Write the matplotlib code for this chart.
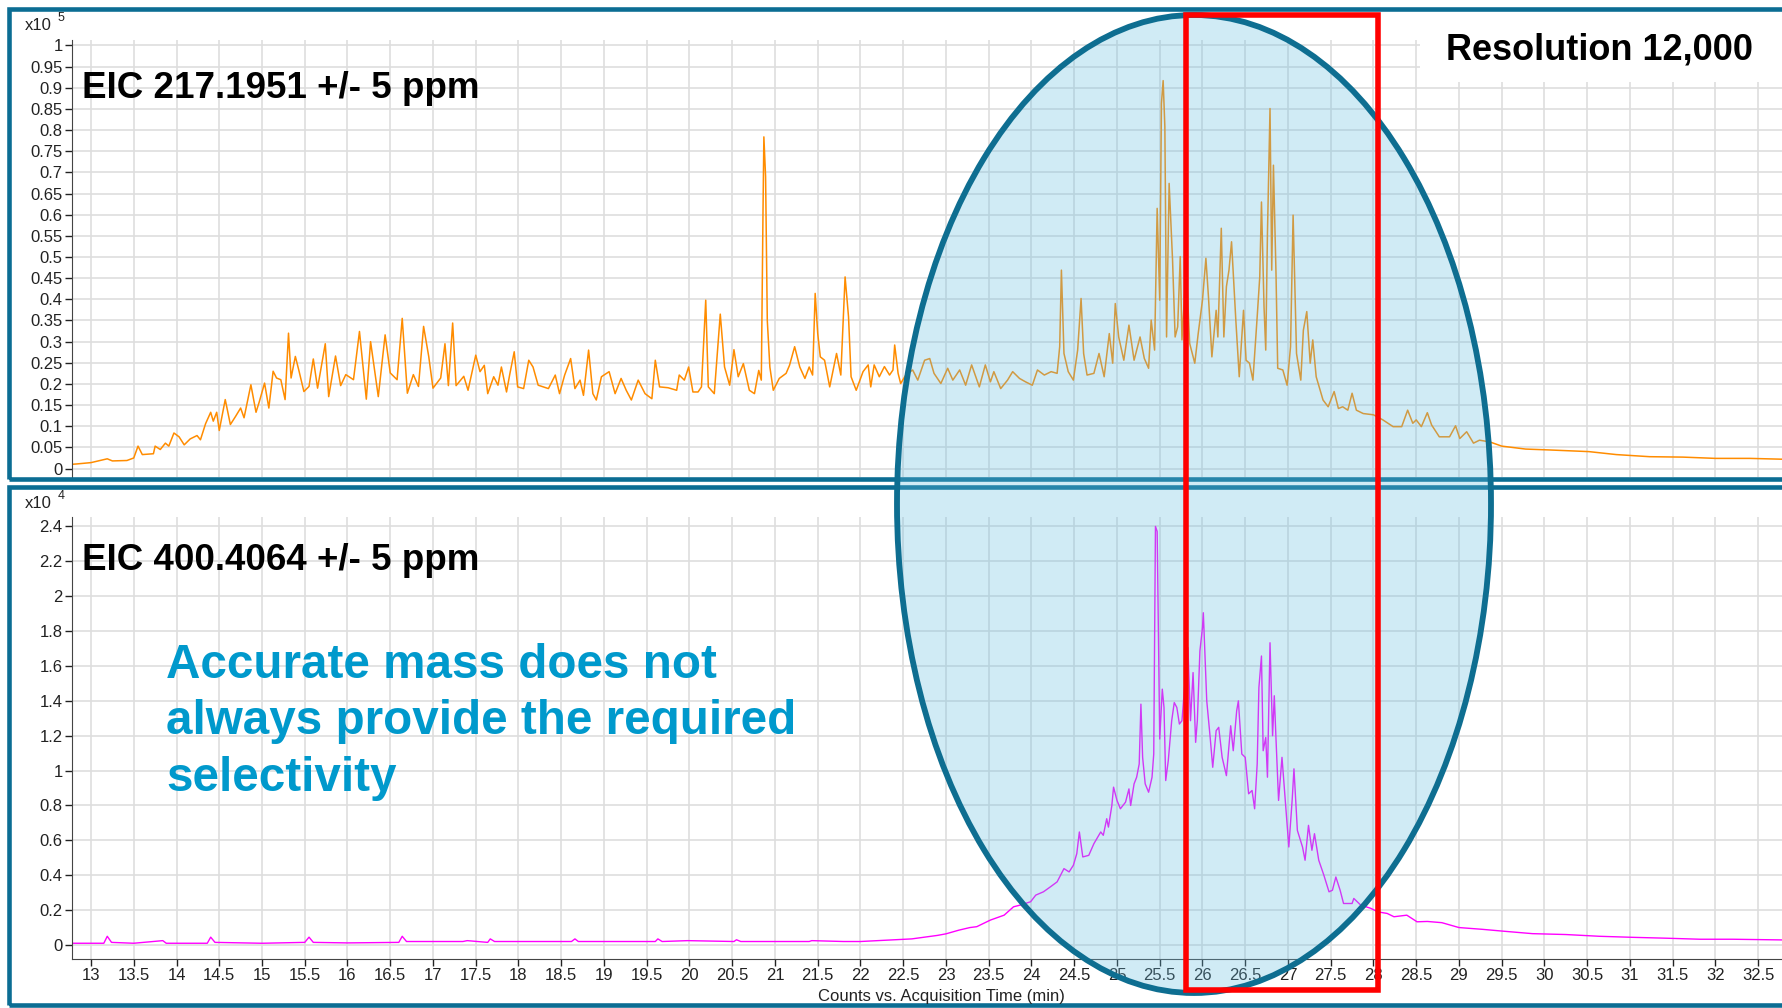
import numpy as np
import matplotlib.pyplot as plt
from matplotlib.patches import Ellipse, Rectangle

plt.rcParams['font.family'] = ['Liberation Sans', 'DejaVu Sans']

# EIC 217.1951, counts x10^5
t_217 = [12.78, 12.84, 13.0, 13.19, 13.25, 13.42, 13.5, 13.55, 13.6, 13.73, 13.75, 13.81, 13.87, 13.91,
         13.97, 14.03, 14.09, 14.16, 14.24, 14.28, 14.34, 14.4, 14.43, 14.47, 14.5, 14.57, 14.63, 14.69,
         14.75, 14.79, 14.87, 14.93, 14.97, 15.03, 15.08, 15.13, 15.17, 15.22, 15.27, 15.31, 15.34, 15.39,
         15.43, 15.49, 15.55, 15.6, 15.65, 15.74, 15.78, 15.86, 15.92, 15.98, 16.07, 16.14, 16.22, 16.27,
         16.36, 16.44, 16.5, 16.58, 16.64, 16.7, 16.77, 16.83, 16.89, 16.95, 17.0, 17.09, 17.14, 17.18,
         17.23, 17.27, 17.36,
         17.41, 17.5, 17.55, 17.6, 17.64, 17.71, 17.76, 17.8, 17.86, 17.9, 17.95, 17.99, 18.06, 18.12,
         18.17, 18.23, 18.35, 18.43, 18.48, 18.54, 18.61, 18.66, 18.72, 18.76, 18.82, 18.87, 18.91, 18.97,
         19.06, 19.13, 19.2, 19.26, 19.32, 19.4, 19.48, 19.56, 19.6, 19.65, 19.75, 19.85, 19.88, 19.94,
         19.99, 20.04, 20.1, 20.14, 20.19, 20.22, 20.29, 20.36, 20.41, 20.47, 20.52, 20.57, 20.63, 20.7,
         20.76, 20.81, 20.84, 20.86, 20.87, 20.89, 20.91, 20.94, 20.98, 21.05, 21.13, 21.17, 21.23, 21.29,
         21.35, 21.4, 21.44, 21.47, 21.5, 21.53, 21.58, 21.64, 21.72, 21.77, 21.82, 21.86, 21.89, 21.95,
         22.03, 22.09, 22.12, 22.16, 22.22, 22.28, 22.34, 22.38, 22.4, 22.44, 22.47, 22.53, 22.61, 22.67,
         22.75, 22.81, 22.86, 22.94, 23.02, 23.08, 23.16, 23.23, 23.3, 23.39, 23.46, 23.52, 23.56, 23.64,
         23.72, 23.78, 23.86, 23.93, 24.01, 24.07, 24.15, 24.23, 24.3, 24.33, 24.35, 24.38, 24.43, 24.49,
         24.54, 24.58, 24.61, 24.65, 24.73, 24.79, 24.85, 24.91, 24.95, 24.98, 25.02, 25.08, 25.14, 25.2,
         25.27, 25.32, 25.37, 25.4, 25.44, 25.47, 25.5, 25.52, 25.54, 25.56, 25.58, 25.61, 25.65, 25.68,
         25.71, 25.74, 25.76,
         25.81, 25.85, 25.91, 25.95, 26.0, 26.04, 26.07, 26.11, 26.16, 26.18, 26.22, 26.25, 26.28, 26.31,
         26.34, 26.39, 26.43, 26.48, 26.51, 26.55, 26.59, 26.64, 26.67, 26.69, 26.72, 26.74, 26.76, 26.79,
         26.81, 26.83, 26.86, 26.88, 26.94, 26.99, 27.03, 27.06, 27.1, 27.15, 27.18, 27.22, 27.26, 27.29,
         27.33, 27.41, 27.47, 27.54, 27.59, 27.64, 27.7, 27.75, 27.8, 27.88, 28.0, 28.11, 28.23, 28.33,
         28.4, 28.46, 28.5, 28.56, 28.63, 28.68, 28.77, 28.89, 28.96, 29.01, 29.09, 29.17, 29.24, 29.36,
         29.5, 29.78, 30.05, 30.52, 30.84, 31.23, 31.62, 32.0, 32.4, 32.79]
c_217 = [0.010, 0.011, 0.014, 0.023, 0.018, 0.019, 0.025, 0.053, 0.033, 0.035, 0.053, 0.045, 0.06, 0.053,
         0.084, 0.075, 0.056, 0.07, 0.078, 0.068, 0.106, 0.133, 0.112, 0.133, 0.09, 0.163, 0.104, 0.123,
         0.143, 0.12, 0.198, 0.133, 0.159, 0.202, 0.143, 0.23, 0.214, 0.21, 0.163, 0.32, 0.214, 0.265,
         0.233, 0.182, 0.194, 0.259, 0.19, 0.295, 0.17, 0.266, 0.196, 0.222, 0.21, 0.324, 0.164, 0.30,
         0.17, 0.316, 0.226, 0.21, 0.355, 0.178, 0.222, 0.194, 0.336, 0.265, 0.19, 0.214, 0.295, 0.196,
         0.344, 0.196, 0.218,
         0.185, 0.268, 0.229, 0.244, 0.177, 0.217, 0.197, 0.24, 0.181, 0.225, 0.276, 0.193, 0.189, 0.256,
         0.24, 0.197, 0.189, 0.221, 0.177, 0.221, 0.26, 0.189, 0.209, 0.173, 0.28, 0.177, 0.162, 0.217,
         0.229, 0.177, 0.213, 0.185, 0.162, 0.209, 0.177, 0.165, 0.256, 0.193, 0.191, 0.185, 0.221, 0.209,
         0.24, 0.181, 0.181, 0.193, 0.398, 0.193, 0.177, 0.365, 0.24, 0.197, 0.281, 0.217, 0.248, 0.185,
         0.177, 0.232, 0.209, 0.61, 0.784, 0.69, 0.35, 0.24, 0.185, 0.213, 0.225, 0.244, 0.288, 0.24,
         0.213, 0.24, 0.221, 0.414, 0.319, 0.264, 0.256, 0.193, 0.272, 0.221, 0.453, 0.359, 0.217, 0.185,
         0.229, 0.245, 0.193, 0.245, 0.217, 0.241, 0.221, 0.233, 0.292, 0.225, 0.201, 0.221, 0.233, 0.209,
         0.256, 0.26, 0.225, 0.201, 0.237, 0.209, 0.233, 0.197, 0.245, 0.193, 0.245, 0.205, 0.229, 0.189,
         0.209, 0.229, 0.213, 0.205, 0.197, 0.233, 0.221, 0.229, 0.225, 0.288, 0.469, 0.272, 0.229, 0.209,
         0.28, 0.402, 0.272, 0.221, 0.225, 0.272, 0.217, 0.319, 0.249, 0.39, 0.311, 0.256, 0.339, 0.256,
         0.311, 0.26, 0.237, 0.351, 0.28, 0.615, 0.398, 0.863, 0.917, 0.808, 0.311, 0.674, 0.493, 0.311,
         0.335, 0.501, 0.304,
         0.477, 0.296, 0.249, 0.319, 0.398, 0.497, 0.406, 0.264, 0.374, 0.311, 0.568, 0.311, 0.43, 0.469,
         0.536, 0.351, 0.217, 0.374, 0.256, 0.249, 0.209, 0.359, 0.453, 0.63, 0.382, 0.28, 0.556, 0.851,
         0.469, 0.717, 0.461, 0.237, 0.233, 0.197, 0.288, 0.599, 0.272, 0.209, 0.327, 0.371, 0.249, 0.304,
         0.217, 0.162, 0.146, 0.182, 0.142, 0.146, 0.138, 0.178, 0.138, 0.13, 0.127, 0.115, 0.099, 0.099,
         0.138, 0.107, 0.115, 0.099, 0.132, 0.103, 0.075, 0.075, 0.101, 0.071, 0.087, 0.06, 0.067, 0.063,
         0.053, 0.046, 0.044, 0.04, 0.033, 0.028, 0.027, 0.024, 0.024, 0.022]

# EIC 400.4064, counts x10^4
t_400 = [12.78, 13.15, 13.19, 13.24, 13.5, 13.84, 13.88, 14.36, 14.4, 14.45, 15.0, 15.5, 15.55, 15.6,
         16.0, 16.6, 16.64, 16.69, 17.35, 17.4, 17.64, 17.67, 17.72, 18.4, 18.62, 18.66, 18.7, 19.6,
         19.63, 19.68, 19.98, 20.52, 20.55, 20.6, 21.4, 21.43, 21.8, 22.0, 22.2, 22.4, 22.6, 22.75,
         22.9, 23.0, 23.15, 23.28,
         23.36, 23.52, 23.68, 23.79, 23.87, 23.99, 24.05, 24.14, 24.22, 24.3, 24.38, 24.44, 24.49, 24.53,
         24.56, 24.6, 24.67, 24.73, 24.81, 24.84, 24.88, 24.9, 24.94, 24.96, 25.0, 25.04, 25.1, 25.14,
         25.16, 25.2, 25.23, 25.26, 25.28, 25.3, 25.33, 25.37, 25.41, 25.43, 25.45, 25.47, 25.49, 25.5,
         25.53, 25.55, 25.57, 25.6, 25.64, 25.67, 25.7, 25.73, 25.76, 25.8, 25.83, 25.86, 25.89, 25.92,
         25.94, 25.97, 26.0, 26.01, 26.05, 26.09, 26.12, 26.16, 26.19, 26.23, 26.28, 26.33, 26.36, 26.4,
         26.42, 26.46, 26.5, 26.54, 26.58, 26.61, 26.64, 26.66, 26.69, 26.71, 26.74, 26.76, 26.79, 26.82,
         26.84, 26.86, 26.89, 26.93, 26.96, 27.01, 27.05, 27.07, 27.11, 27.17, 27.2, 27.24, 27.28, 27.31,
         27.36, 27.42, 27.48, 27.52, 27.56, 27.61, 27.65, 27.75, 27.77, 27.85, 27.97, 28.05, 28.16, 28.24,
         28.39, 28.51,
         28.63, 28.8, 29.0, 29.27, 29.5, 29.86, 30.25, 30.64, 31.03, 31.42, 31.82, 32.2, 32.79]
c_400 = [0.01, 0.01, 0.05, 0.015, 0.01, 0.025, 0.01, 0.01, 0.045, 0.015, 0.01, 0.015, 0.045, 0.015,
         0.012, 0.015, 0.05, 0.02, 0.02, 0.025, 0.015, 0.035, 0.02, 0.02, 0.02, 0.035, 0.02, 0.02,
         0.035, 0.02, 0.025, 0.02, 0.03, 0.02, 0.02, 0.025, 0.02, 0.02, 0.025, 0.03, 0.035, 0.045,
         0.055, 0.064, 0.085, 0.1,
         0.105, 0.143, 0.171, 0.219, 0.229, 0.248, 0.286, 0.305, 0.333, 0.362, 0.438, 0.419, 0.457, 0.524,
         0.648, 0.505, 0.514, 0.581, 0.648, 0.629, 0.724, 0.676, 0.80, 0.905, 0.829, 0.781, 0.819, 0.895,
         0.80, 0.924, 0.962, 1.038, 1.381, 1.076, 0.924, 0.876, 0.962, 1.095, 2.40, 2.371, 1.61, 1.181,
         1.467, 1.362, 0.943, 1.057, 1.286, 1.39, 1.362, 1.267, 1.286, 1.533, 1.705, 1.286, 1.562, 1.162,
         1.286, 1.686, 1.819, 1.905, 1.40, 1.19, 1.019, 1.229, 1.248, 1.076, 0.971, 1.257, 1.114, 1.343,
         1.40, 1.095, 1.076, 0.867, 0.886, 0.781, 1.038, 1.476, 1.657, 1.114, 1.19, 0.962, 1.733, 1.20,
         1.429, 1.181, 0.829, 1.076, 0.886, 0.562, 0.838, 1.01, 0.657, 0.562, 0.486, 0.686, 0.543, 0.638,
         0.486, 0.40, 0.305, 0.314, 0.39, 0.314, 0.238, 0.238, 0.267, 0.229, 0.21, 0.19, 0.181, 0.162,
         0.171, 0.133,
         0.135, 0.128, 0.10, 0.09, 0.08, 0.065, 0.06, 0.05, 0.044, 0.039, 0.033, 0.033, 0.029]

x_ticks = np.arange(13, 32.51, 0.5)
y_ticks_217 = np.arange(0, 1.001, 0.05)
y_ticks_400 = np.arange(0, 2.401, 0.2)

W, H = 1783, 1008
teal = '#0b6d93'


def fx(px):
    return px / W


def fy(py):
    return 1 - py / H


fig = plt.figure(figsize=(W / 100, H / 100), dpi=100)

ax1 = fig.add_axes([fx(71.6), fy(477), 1 - fx(71.6), (477 - 40) / H])
ax2 = fig.add_axes([fx(71.6), fy(958.6), 1 - fx(71.6), (958.6 - 517) / H])


def style(ax, yticks):
    ax.set_xlim(12.773, 32.79)
    ax.set_xticks(x_ticks)
    ax.set_xticklabels([f'{v:g}' for v in x_ticks])
    ax.set_yticks(yticks)
    ax.set_yticklabels([f'{round(v, 2):g}' for v in yticks])
    ax.grid(True, color='#dedede', lw=1.2)
    ax.set_axisbelow(True)
    ax.spines['top'].set_visible(False)
    ax.spines['right'].set_visible(False)
    ax.spines['left'].set_color('#444444')
    ax.spines['bottom'].set_color('#444444')
    ax.tick_params(labelsize=12, colors='#222222', length=5, width=1, pad=1.5)


style(ax1, y_ticks_217)
ax1.set_ylim(-0.02, 1.013)
ax1.spines['bottom'].set_visible(False)
ax1.tick_params(axis='x', bottom=False, labelbottom=False)
ax1.plot(t_217, c_217, color='#ff8c00', lw=1.1)

style(ax2, y_ticks_400)
ax2.set_ylim(-0.078, 2.454)
ax2.plot(t_400, c_400, color='#ff00ff', lw=1.0)

# exponent labels
fig.text(fx(25), fy(25), 'x10', fontsize=12, va='center', ha='left', color='#222222')
fig.text(fx(58), fy(18), '5', fontsize=9, va='center', ha='left', color='#222222')
fig.text(fx(25), fy(503), 'x10', fontsize=12, va='center', ha='left', color='#222222')
fig.text(fx(58), fy(496), '4', fontsize=9, va='center', ha='left', color='#222222')

fig.text(fx(941), fy(996), 'Counts vs. Acquisition Time (min)', fontsize=12,
         ha='center', va='center', color='#222222')

fig.text(fx(82), fy(88), 'EIC 217.1951 +/- 5 ppm', fontsize=26.5, fontweight='bold',
         ha='left', va='center')
fig.text(fx(82), fy(561), 'EIC 400.4064 +/- 5 ppm', fontsize=26.5, fontweight='bold',
         ha='left', va='center')
fig.text(fx(166), fy(722), 'Accurate mass does not\nalways provide the required\nselectivity',
         fontsize=34.3, fontweight='bold', color='#0099cc', ha='left', va='center', linespacing=1.33)

# white patch behind the resolution label
fig.add_artist(Rectangle((fx(1420), fy(82)), 1 - fx(1420), (82 - 38) / H,
                         transform=fig.transFigure, fc='white', ec='none'))
fig.text(fx(1600), fy(50), 'Resolution 12,000', fontsize=26, fontweight='bold',
         ha='center', va='center', zorder=5)

# panel frames
fig.add_artist(Rectangle((fx(9), fy(479)), (1800 - 9) / W, (479 - 9) / H,
                         transform=fig.transFigure, fill=False, ec=teal, lw=3.3, clip_on=False))
fig.add_artist(Rectangle((fx(9), fy(1005)), (1800 - 9) / W, (1005 - 487) / H,
                         transform=fig.transFigure, fill=False, ec=teal, lw=3.3, clip_on=False))

# highlight ellipse and red box
fig.add_artist(Ellipse((fx(1194), fy(504)), 594 / W, 978 / H, transform=fig.transFigure,
                       fc=(0.40, 0.74, 0.88, 0.30), ec='#0e6e91', lw=4.2, zorder=2))
fig.add_artist(Rectangle((fx(1186), fy(990)), (1378 - 1186) / W, (990 - 15) / H,
                         transform=fig.transFigure, fill=False, ec='#ff0000', lw=4, zorder=3))

fig.savefig('out.png', dpi=100)
